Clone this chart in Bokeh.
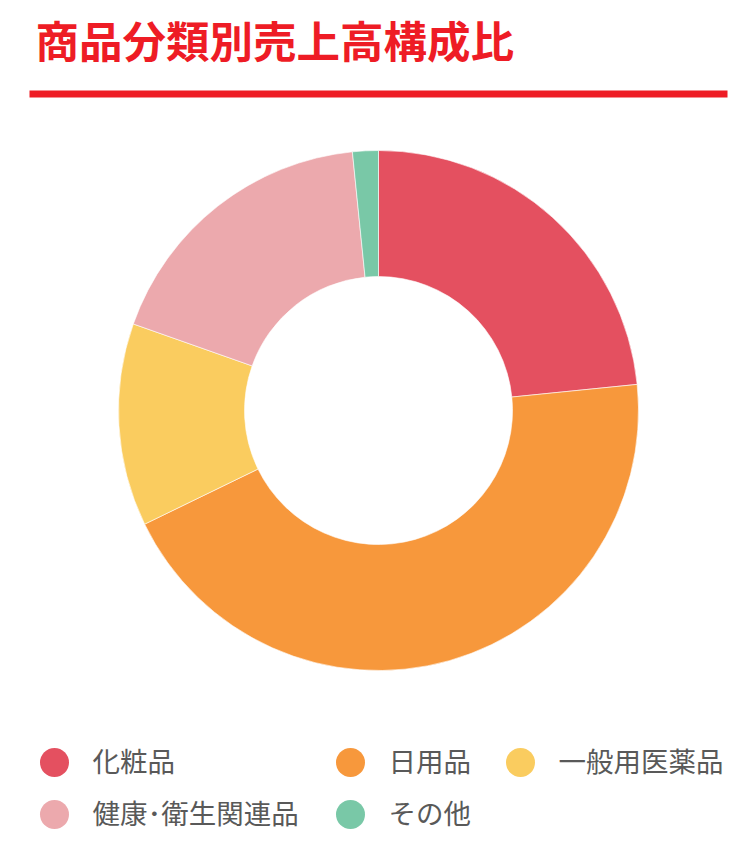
import math
from bokeh.plotting import figure
from bokeh.models import Range1d, ColumnDataSource
from bokeh.embed import file_html
from bokeh.resources import INLINE
from bokeh.core.properties import value

# ---- data ----
title_text = "商品分類別売上高構成比"
categories = ["化粧品", "日用品", "一般用医薬品", "健康･衛生関連品", "その他"]
shares = [23.4, 44.4, 12.6, 18.0, 1.6]
colors = ["#E45060", "#F7983C", "#FACC5F", "#ECA9AD", "#79C8A7"]

# ---- layout ----
W, H = 732, 841
FONT = "Noto Sans CJK JP"


def X(x):
    return x


def Y(y):
    return H - y


p = figure(width=W, height=H, x_range=Range1d(0, W), y_range=Range1d(0, H),
           output_backend="svg", toolbar_location=None, min_border=0)
p.axis.visible = False
p.grid.visible = False
p.outline_line_color = None
p.background_fill_color = "white"
p.border_fill_color = "white"

# title and rule
p.text(x=[X(35)], y=[Y(39)], text=[title_text], text_font=value(FONT),
       text_font_size="43.5px", text_font_style="bold", text_color="#EE1C25",
       text_baseline="middle", text_align="left")
p.quad(left=[X(29)], right=[X(727)], top=[Y(90)], bottom=[Y(97)],
       fill_color="#EE1C25", line_color=None)

# donut
total = sum(shares)
cum = [0.0]
for s in shares:
    cum.append(cum[-1] + s)
starts = [math.pi / 2 - cum[i + 1] / total * 2 * math.pi for i in range(len(shares))]
ends = [math.pi / 2 - cum[i] / total * 2 * math.pi for i in range(len(shares))]
src = ColumnDataSource(dict(start=starts, end=ends, color=colors, cat=categories))
p.annular_wedge(x=X(378), y=Y(410), inner_radius=134, outer_radius=260,
                start_angle="start", end_angle="end", direction="anticlock",
                fill_color="color", line_color="white", line_width=0.6, source=src)

# legend
leg_x = [54, 350, 520, 54, 350]
leg_y = [762, 762, 762, 814, 814]
p.scatter(x=[X(v) for v in leg_x], y=[Y(v) for v in leg_y], size=29,
          marker="circle", fill_color=colors, line_color=None)
p.text(x=[X(v + 38) for v in leg_x], y=[Y(v - 3) for v in leg_y], text=categories,
       text_font=value(FONT), text_font_size="27.5px", text_color="#595959",
       text_baseline="middle", text_align="left")

open("out.html", "w").write(file_html(p, INLINE))
